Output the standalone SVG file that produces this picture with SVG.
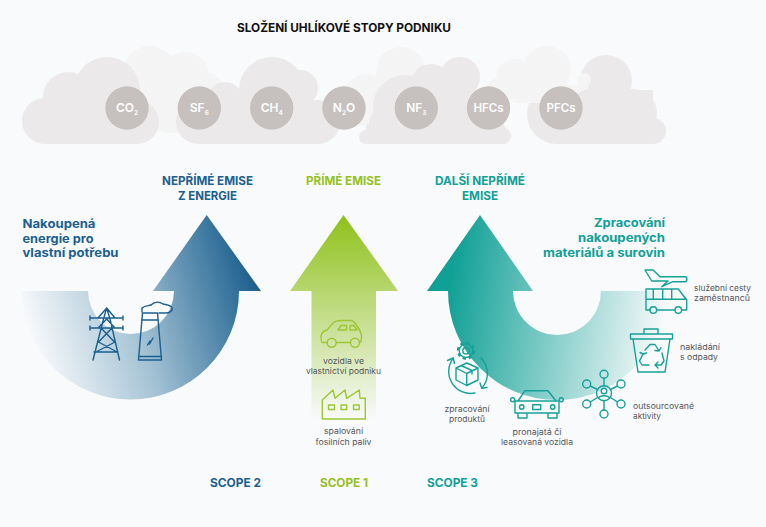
<svg xmlns="http://www.w3.org/2000/svg" width="766" height="527" viewBox="0 0 766 527">
<style>
.t{font-family:"Inter","Liberation Sans",sans-serif}
.h{font-weight:700;font-size:11.5px}
.s{font-weight:400;font-size:8px;fill:#55565a}
.c{text-anchor:middle}
.e{text-anchor:end}
.g{font-family:"Inter","Liberation Sans",sans-serif;font-weight:600;font-size:12px;fill:#fff;text-anchor:middle}
.g tspan{font-size:6.5px}
.blue{fill:#1b5f8e}.green{fill:#95c11f}.teal{fill:#10a096}
.cl{fill:#ebe9ea}
.ib{fill:none;stroke:#1b5f8e;stroke-width:1.4;stroke-linejoin:round;stroke-linecap:round}
.ig{fill:none;stroke:#9cc733;stroke-width:1.4;stroke-linejoin:round;stroke-linecap:round}
.it{fill:none;stroke:#16a197;stroke-width:1.4;stroke-linejoin:round;stroke-linecap:round}
</style>
<defs>
<pattern id="dots" width="2" height="2" patternUnits="userSpaceOnUse"><rect width="2" height="2" fill="#f7f7f8"/><circle cx="1" cy="1" r="0.5" fill="#ecebeb"/></pattern>
<linearGradient id="gb" gradientUnits="userSpaceOnUse" x1="28" y1="335" x2="252" y2="268"><stop offset="0" stop-color="#f9fafc"/><stop offset="0.45" stop-color="#a5c3d5"/><stop offset="1" stop-color="#1b5f8e"/></linearGradient>
<linearGradient id="gg" gradientUnits="userSpaceOnUse" x1="0" y1="215" x2="0" y2="420"><stop offset="0" stop-color="#8fc11a"/><stop offset="1" stop-color="#f9fafc"/></linearGradient>
<linearGradient id="gt" gradientUnits="userSpaceOnUse" x1="445" y1="310" x2="662" y2="345"><stop offset="0" stop-color="#10a096"/><stop offset="0.4" stop-color="#6ec5bf"/><stop offset="1" stop-color="#f9fafc"/></linearGradient>
</defs>
<rect width="766" height="527" fill="#f9fafc"/>
<text id="title" class="t c" x="344" y="32" style="font-weight:700;font-size:12px" fill="#111" textLength="214" lengthAdjust="spacingAndGlyphs">SLOŽENÍ UHLÍKOVÉ STOPY PODNIKU</text>

<g id="clouds">
<g fill="url(#dots)">
<circle cx="150" cy="72" r="26"/><circle cx="185" cy="76" r="24"/><circle cx="205" cy="90" r="18"/><circle cx="170" cy="103" r="30"/>
<circle cx="401" cy="72" r="25"/><circle cx="368" cy="100" r="26"/>
</g>
<g class="cl">
<circle cx="45" cy="121" r="23"/><circle cx="68" cy="97" r="25"/><circle cx="107" cy="90" r="33"/><circle cx="137" cy="122" r="22"/><rect x="45" y="95" width="92" height="49"/>
<circle cx="198" cy="122" r="22"/><circle cx="225" cy="100" r="18"/><circle cx="272" cy="90" r="33"/><circle cx="300" cy="88" r="18"/><circle cx="318" cy="122" r="22"/><rect x="198" y="100" width="120" height="44"/>
<circle cx="366" cy="137" r="7"/><circle cx="388" cy="125" r="19"/><circle cx="405" cy="107" r="32"/><circle cx="431" cy="84" r="20"/><circle cx="460" cy="77" r="20"/><circle cx="503" cy="136" r="8"/><path d="M366 144V125H400V90H480L506 128V144Z"/>
<circle cx="557" cy="114" r="30"/><circle cx="606" cy="81" r="26"/><circle cx="633" cy="113" r="24"/><circle cx="653" cy="131" r="13"/><rect x="557" y="90" width="96" height="54"/>
</g>
<g fill="url(#dots)">
<circle cx="547" cy="70" r="24"/><circle cx="515" cy="78" r="19"/><circle cx="501" cy="90" r="14"/><circle cx="584" cy="80" r="7"/><circle cx="545" cy="84" r="19"/><path d="M490 85H586L590 88 580 92 560 103H515Z"/>
</g>
</g>

<g id="gases" fill="#c6c1be">
<g id="gas-co2"><circle cx="127" cy="108" r="21.7"/><text class="g" x="127" y="112">CO<tspan dy="3">2</tspan></text></g>
<g id="gas-sf6"><circle cx="199.3" cy="108" r="21.7"/><text class="g" x="199.3" y="112">SF<tspan dy="3">6</tspan></text></g>
<g id="gas-ch4"><circle cx="271.7" cy="108" r="21.7"/><text class="g" x="271.7" y="112">CH<tspan dy="3">4</tspan></text></g>
<g id="gas-n2o"><circle cx="344" cy="108" r="21.7"/><text class="g" x="344" y="112">N<tspan dy="3">2</tspan><tspan dy="-3" style="font-size:12px">O</tspan></text></g>
<g id="gas-nf3"><circle cx="416.3" cy="108" r="21.7"/><text class="g" x="416.3" y="112">NF<tspan dy="3">3</tspan></text></g>
<g id="gas-hfcs"><circle cx="488.5" cy="108" r="21.7"/><text class="g" x="488.5" y="112" style="font-size:11.5px">HFCs</text></g>
<g id="gas-pfcs"><circle cx="561" cy="108" r="21.7"/><text class="g" x="561" y="112" style="font-size:11.5px">PFCs</text></g>
</g>

<g id="scope2">
<path d="M22 291H88A43 43 0 0 0 174 291H153L206.700 215 261 291H239A108.500 108.500 0 0 1 22 291Z" fill="url(#gb)"/>
<g id="pylon" class="ib">
<path d="M93 360L103.500 319 106.700 308 110 319 119.500 360M90 318H123M90 328H123M98 318L106.700 308 115 318M98 328L106.700 319 115 328M101 328L114.500 342M112 328L98.500 342M98.500 342L117 352M115 342L96 352M94 352H118M90 316V320M123 316V320M90 326V330M123 326V330"/>
</g>
<g id="tower" class="ib">
<path d="M138.500 360L142.500 313H157.500L161.500 360ZM138.500 356.500H161.500M141.500 320H158.500M147.500 345L150 341 149.500 344 153 338"/>
<path d="M142 312V308C145 305 149 306 151 305 155 301 160 302 163 304 167 305 171 305 172 308 173 311 169 313 166 313H159"/>
</g>
<text class="t h blue c" x="207.500" y="185" textLength="91" lengthAdjust="spacingAndGlyphs">NEPŘÍMÉ EMISE</text>
<text class="t h blue c" x="207.500" y="200" textLength="59" lengthAdjust="spacingAndGlyphs">Z ENERGIE</text>
<text class="t h blue" x="22.500" y="228" style="font-size:12px" textLength="73" lengthAdjust="spacingAndGlyphs">Nakoupená</text>
<text class="t h blue" x="22.500" y="243" style="font-size:12px" textLength="71" lengthAdjust="spacingAndGlyphs">energie pro</text>
<text class="t h blue" x="22.500" y="257" style="font-size:12px" textLength="96" lengthAdjust="spacingAndGlyphs">vlastní potřebu</text>
<text class="t h blue" x="210" y="487" style="font-size:12px" textLength="51" lengthAdjust="spacingAndGlyphs">SCOPE 2</text>
</g>

<g id="scope1">
<path d="M343.500 215L398 291H376V420H311.500V291H290Z" fill="url(#gg)"/>
<g id="car" class="ig">
<path d="M327 342.500H322.500C321 342 321 339 321 337 321 333 323 331 327 330L333 323C335 321 337 320.500 342 320.500H350C353 320.500 355 322 357 326 360 330 361.500 333 361.500 337 361.500 340 361 342.500 359.500 342.500M336.500 342.500H350.500"/>
<circle cx="331.700" cy="342.700" r="4.500"/><circle cx="355" cy="342.700" r="4.500"/>
<path d="M338 330L341 325.500H346.500V330ZM350 330V325.500H354L357 330Z"/>
</g>
<g id="factory" class="ig">
<path d="M322.300 419V400L333 390 335 398.300 345 390 346.700 398.300 359.300 390 360 398.300H365.300V419Z"/>
<rect x="328.500" y="405" width="6" height="4.500"/><rect x="341" y="405" width="5.700" height="4.500"/><rect x="353.500" y="405" width="5.700" height="4.500"/>
</g>
<text class="t h green c" x="343.500" y="185" textLength="75" lengthAdjust="spacingAndGlyphs">PŘÍMÉ EMISE</text>
<text class="t s c" x="343.500" y="364" textLength="41" lengthAdjust="spacingAndGlyphs">vozidla ve</text>
<text class="t s c" x="343.500" y="374" textLength="75" lengthAdjust="spacingAndGlyphs">vlastnictví podniku</text>
<text class="t s c" x="343.500" y="434" textLength="39" lengthAdjust="spacingAndGlyphs">spalování</text>
<text class="t s c" x="343.500" y="445" textLength="56" lengthAdjust="spacingAndGlyphs">fosilních paliv</text>
<text class="t h green" x="320" y="487" style="font-size:12px" textLength="48" lengthAdjust="spacingAndGlyphs">SCOPE 1</text>
</g>

<g id="scope3">
<path d="M666 291H601A44 44 0 0 1 513 291H533L480 215 427 291H448A109 109 0 0 0 666 291Z" fill="url(#gt)"/>
<g id="gearbox" class="it">
<circle cx="466" cy="350.700" r="3.200"/>
<circle cx="466" cy="350.700" r="6.800"/>
<circle cx="466" cy="350.700" r="8" stroke-width="2.400" stroke-dasharray="3.300 3" stroke-linecap="butt"/>
<path d="M466.700 363L478 368V380L466.700 385.500 456 380V368ZM456 368L466.700 373.500 478 368M466.700 373.500V385.500M461 365.500L472 370.500V374"/>
<path d="M453.300 358A22 22 0 0 0 475 393M481 358A22 22 0 0 1 481.700 388.300"/>
<path d="M447.500 360.500L453.300 358 454.500 363.500M480 383L481.700 388.300 487 387.500"/>
</g>
<g id="carfront" class="it">
<path d="M515 401H559V413H515ZM518 401L525 390.700H548L556 401M518 413V418H527V413M548 413V418H557V413"/>
<circle cx="512.700" cy="399.800" r="2"/><circle cx="561.300" cy="399.800" r="2"/>
<circle cx="521.700" cy="407" r="2.200"/><circle cx="552.700" cy="407" r="2.200"/>
<rect x="532.700" y="404.700" width="8" height="4.800"/>
</g>
<g id="network" class="it">
<circle cx="604" cy="393.300" r="7.500"/><circle cx="604" cy="391" r="2.800"/><path d="M598.500 398C600 395 608 395 609.500 398"/>
<circle cx="604" cy="374.300" r="4"/><circle cx="621" cy="384" r="4"/><circle cx="621" cy="404" r="4"/><circle cx="604" cy="414" r="4"/><circle cx="586.700" cy="404" r="4"/><circle cx="586.700" cy="384" r="4"/>
<path d="M604 378.300V385.800M604 400.800V410M617.500 386L610.500 389.500M617.500 402L610.500 397.500M590.200 402L597.500 397.500M590.200 386L597.500 389.500"/>
</g>
<g id="trash" class="it">
<path d="M633 339L638 372H665L670 339M630.500 334H672.500V339H630.500ZM644 334V329H658V334"/>
<path d="M645 350L650 344.500H655L659 351M662 353L664 361 661 365H655M649 365H642L639.500 361 643 354M659 351L655 350.500M659 351L661 347.500M655 365L658 362M655 365L658 368M643 354L640 352.500M643 354L646.500 353"/>
</g>
<g id="planebus" class="it">
<path d="M645 270H653L660 276.700H685C687.500 277 687.500 281.500 685 281.700H673L661.700 286.700 668 281H651.700Z"/>
<path d="M650 310H646V289H678.300L686.700 300V310H682M657 310H675M646 299.300H686.700M653.300 289V299.300M662.700 289V299.300M671.700 289V299.300"/>
<circle cx="653.300" cy="310" r="3.300"/><circle cx="678.300" cy="310" r="3.300"/>
</g>
<text class="t h teal c" x="480" y="185" textLength="90" lengthAdjust="spacingAndGlyphs">DALŠÍ NEPŘÍMÉ</text>
<text class="t h teal c" x="480" y="200" textLength="36" lengthAdjust="spacingAndGlyphs">EMISE</text>
<text class="t h teal e" x="665" y="227" style="font-size:12px" textLength="71" lengthAdjust="spacingAndGlyphs">Zpracování</text>
<text class="t h teal e" x="665" y="242" style="font-size:12px" textLength="87" lengthAdjust="spacingAndGlyphs">nakoupených</text>
<text class="t h teal e" x="665" y="257" style="font-size:12px" textLength="122" lengthAdjust="spacingAndGlyphs">materiálů a surovin</text>
<text class="t s" x="694" y="291" textLength="57" lengthAdjust="spacingAndGlyphs">služební cesty</text>
<text class="t s" x="694" y="301" textLength="56" lengthAdjust="spacingAndGlyphs">zaměstnanců</text>
<text class="t s" x="680" y="350" textLength="40" lengthAdjust="spacingAndGlyphs">nakládání</text>
<text class="t s" x="680" y="360" textLength="38" lengthAdjust="spacingAndGlyphs">s odpady</text>
<text class="t s" x="633" y="409" textLength="61" lengthAdjust="spacingAndGlyphs">outsourcované</text>
<text class="t s" x="633" y="419" textLength="28" lengthAdjust="spacingAndGlyphs">aktivity</text>
<text class="t s c" x="467" y="412" textLength="45" lengthAdjust="spacingAndGlyphs">zpracování</text>
<text class="t s c" x="467" y="422" textLength="36" lengthAdjust="spacingAndGlyphs">produktů</text>
<text class="t s c" x="537" y="435" textLength="49" lengthAdjust="spacingAndGlyphs">pronajatá či</text>
<text class="t s c" x="537" y="445" textLength="72" lengthAdjust="spacingAndGlyphs">leasovaná vozidla</text>
<text class="t h teal" x="427" y="487" style="font-size:12px" textLength="51" lengthAdjust="spacingAndGlyphs">SCOPE 3</text>
</g>
</svg>
